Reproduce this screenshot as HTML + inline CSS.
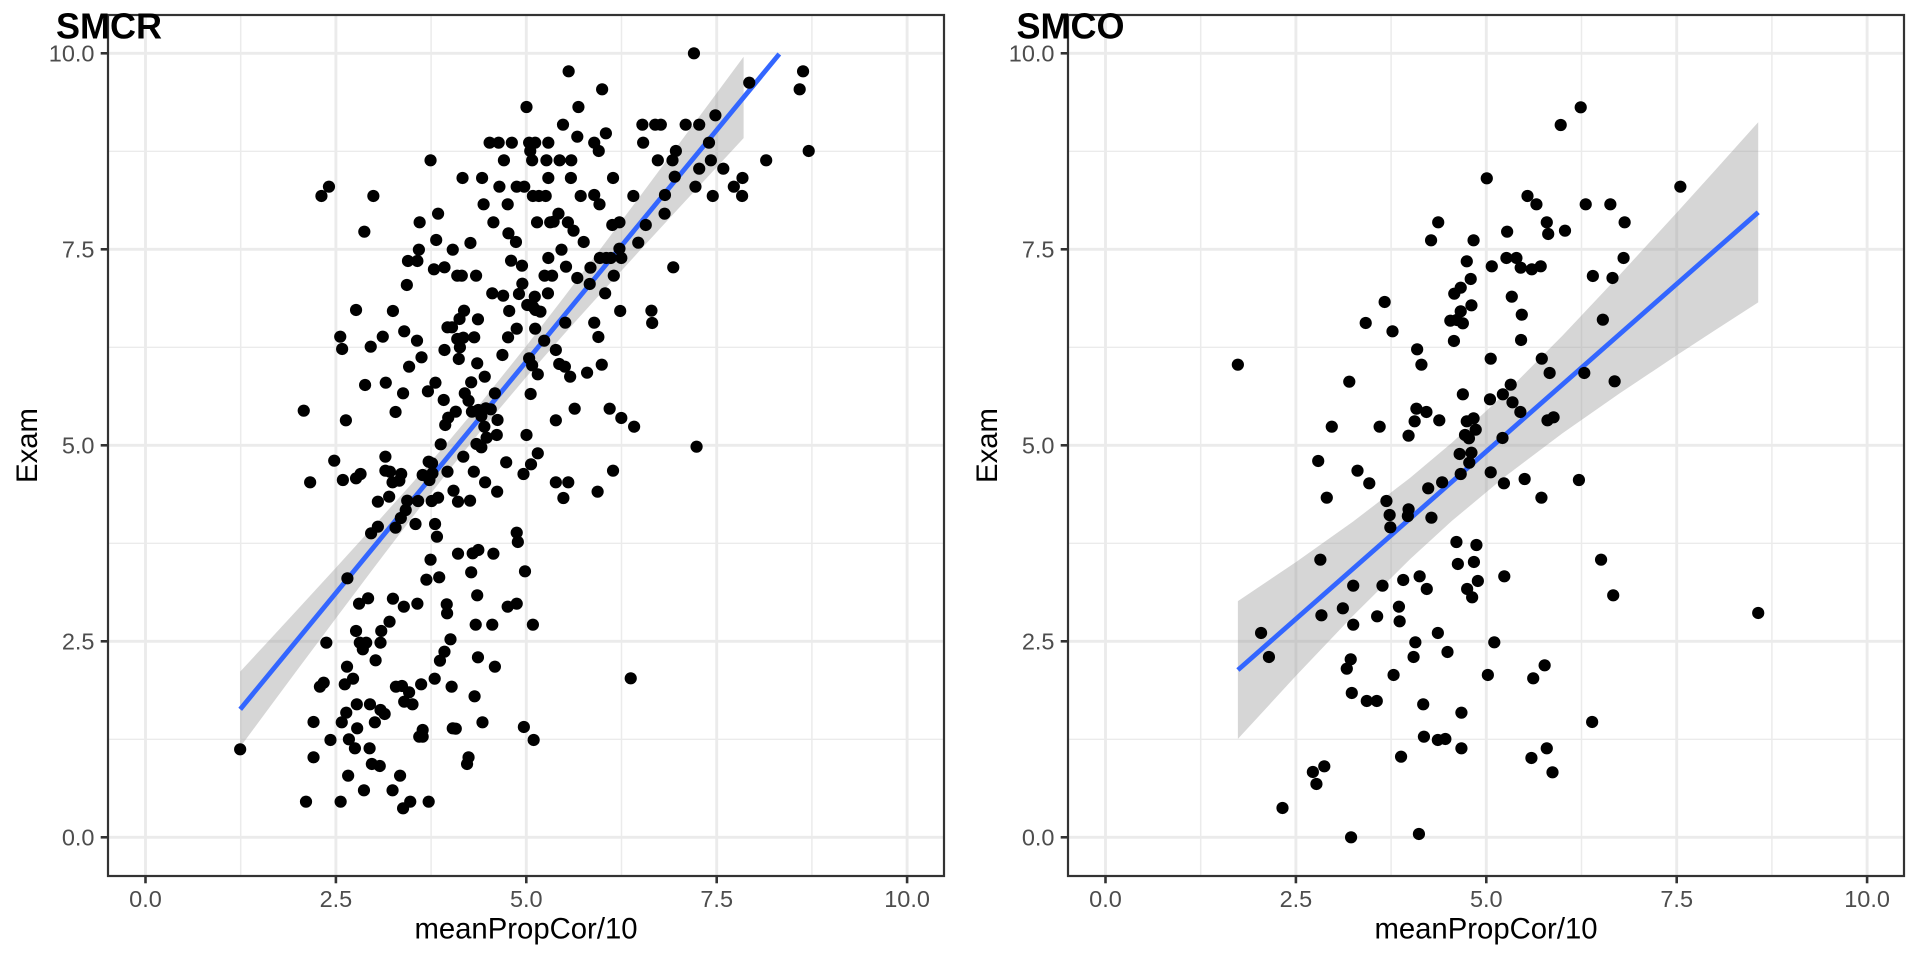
<!DOCTYPE html>
<html><head><meta charset="utf-8"><style>
html,body{margin:0;padding:0;background:#fff;}
svg{display:block;font-family:"Liberation Sans",Arial,sans-serif;}
.tl{font-size:23.5px;fill:#4D4D4D;}
.at{font-size:29.3px;fill:#000;}
.tt{font-size:36px;font-weight:bold;fill:#000;}
.mn{stroke:#EBEBEB;stroke-width:1.45;}
.mj{stroke:#EBEBEB;stroke-width:2.85;}
.tk{stroke:#333;stroke-width:2.6;}
</style></head><body>
<svg width="1920" height="960" viewBox="0 0 1920 960" xmlns="http://www.w3.org/2000/svg">
<rect width="1920" height="960" fill="#fff"/>
<defs>
<g id="frame">
<rect x="108" y="15" width="836" height="861" fill="#fff"/>
<g class="mn">
<line x1="240.7" y1="15" x2="240.7" y2="876"/><line x1="431.1" y1="15" x2="431.1" y2="876"/><line x1="621.5" y1="15" x2="621.5" y2="876"/><line x1="811.9" y1="15" x2="811.9" y2="876"/>
<line x1="108" y1="739.3" x2="944" y2="739.3"/><line x1="108" y1="543.3" x2="944" y2="543.3"/><line x1="108" y1="347.3" x2="944" y2="347.3"/><line x1="108" y1="151.3" x2="944" y2="151.3"/>
</g>
<g class="mj">
<line x1="145.5" y1="15" x2="145.5" y2="876"/><line x1="335.9" y1="15" x2="335.9" y2="876"/><line x1="526.3" y1="15" x2="526.3" y2="876"/><line x1="716.7" y1="15" x2="716.7" y2="876"/><line x1="907.1" y1="15" x2="907.1" y2="876"/>
<line x1="108" y1="837.3" x2="944" y2="837.3"/><line x1="108" y1="641.3" x2="944" y2="641.3"/><line x1="108" y1="445.3" x2="944" y2="445.3"/><line x1="108" y1="249.3" x2="944" y2="249.3"/><line x1="108" y1="53.3" x2="944" y2="53.3"/>
</g>
<g class="tk">
<line x1="100.7" y1="837.3" x2="108" y2="837.3"/><line x1="100.7" y1="641.3" x2="108" y2="641.3"/><line x1="100.7" y1="445.3" x2="108" y2="445.3"/><line x1="100.7" y1="249.3" x2="108" y2="249.3"/><line x1="100.7" y1="53.3" x2="108" y2="53.3"/>
<line x1="145.5" y1="876" x2="145.5" y2="883.3"/><line x1="335.9" y1="876" x2="335.9" y2="883.3"/><line x1="526.3" y1="876" x2="526.3" y2="883.3"/><line x1="716.7" y1="876" x2="716.7" y2="883.3"/><line x1="907.1" y1="876" x2="907.1" y2="883.3"/>
</g>
<g class="tl" text-anchor="end">
<text x="94.5" y="845.7">0.0</text><text x="94.5" y="649.7">2.5</text><text x="94.5" y="453.7">5.0</text><text x="94.5" y="257.7">7.5</text><text x="94.5" y="61.7">10.0</text>
</g>
<g class="tl" text-anchor="middle">
<text x="145.5" y="907">0.0</text><text x="335.9" y="907">2.5</text><text x="526.3" y="907">5.0</text><text x="716.7" y="907">7.5</text><text x="907.1" y="907">10.0</text>
</g>
<text class="at" text-anchor="middle" x="526" y="938.5">meanPropCor/10</text>
<text class="at" text-anchor="middle" transform="translate(37,445.5) rotate(-90)">Exam</text>
</g>
</defs>

<use href="#frame"/>
<use href="#frame" x="960"/>

<!-- Panel 1 smooth -->
<polygon fill="#999999" fill-opacity="0.4" points="240.2,671.6 267.4,642.2 297.8,609.3 335.9,567.7 374,525.8 412.1,483.2 450.1,439.5 480.6,403.1 526.3,346.0 564.4,296.6 602.5,246.3 640.5,195.6 678.6,144.4 709.1,103.4 743.6,56.7 743.6,138.1 709.1,175.4 678.6,208.4 640.5,249.8 602.5,291.5 564.4,333.8 526.3,377.0 480.6,431.1 450.1,468.9 412.1,517.6 374,567.6 335.9,618.3 297.8,669.3 267.4,710.2 240.2,747.0"/>
<line x1="240.2" y1="709.3" x2="779.3" y2="54" stroke="#3366FF" stroke-width="4.8"/>

<!-- Panel 2 smooth -->
<polygon fill="#999999" fill-opacity="0.4" points="1237.9,601.1 1295.9,562.1 1353.0,521.6 1410.1,477.9 1452.0,442.6 1505.3,393.2 1562.5,335.6 1619.6,275.0 1676.7,212.7 1714.8,170.6 1758.2,122.2 1758.2,302.4 1714.8,330.4 1676.7,355.3 1619.6,393.4 1562.5,433.2 1505.3,476.4 1452.0,520.8 1410.1,559.1 1353.0,615.8 1295.9,675.9 1237.9,738.9"/>
<line x1="1237.9" y1="670" x2="1758.2" y2="212.3" stroke="#3366FF" stroke-width="4.8"/>

<!-- Panel 1 points (upper) -->
<g transform="translate(230,40) scale(0.37627,0.33333)" fill="#000">
<ellipse cx="1233" cy="40" rx="16.2" ry="18.3"/><ellipse cx="900" cy="94" rx="16.2" ry="18.3"/><ellipse cx="1523" cy="94" rx="16.2" ry="18.3"/><ellipse cx="1380" cy="128" rx="16.2" ry="18.3"/><ellipse cx="1514" cy="148" rx="16.2" ry="18.3"/><ellipse cx="989" cy="148" rx="16.2" ry="18.3"/><ellipse cx="788" cy="201" rx="16.2" ry="18.3"/><ellipse cx="926" cy="201" rx="16.2" ry="18.3"/><ellipse cx="1290" cy="226" rx="16.2" ry="18.3"/><ellipse cx="885" cy="254" rx="16.2" ry="18.3"/>
<ellipse cx="1096" cy="254" rx="16.2" ry="18.3"/><ellipse cx="1130" cy="254" rx="16.2" ry="18.3"/><ellipse cx="1145" cy="254" rx="16.2" ry="18.3"/><ellipse cx="1211" cy="254" rx="16.2" ry="18.3"/><ellipse cx="1247" cy="254" rx="16.2" ry="18.3"/><ellipse cx="999" cy="280" rx="16.2" ry="18.3"/><ellipse cx="923" cy="290" rx="16.2" ry="18.3"/><ellipse cx="690" cy="308" rx="16.2" ry="18.3"/><ellipse cx="714" cy="308" rx="16.2" ry="18.3"/><ellipse cx="749" cy="308" rx="16.2" ry="18.3"/>
<ellipse cx="795" cy="308" rx="16.2" ry="18.3"/><ellipse cx="811" cy="308" rx="16.2" ry="18.3"/><ellipse cx="846" cy="308" rx="16.2" ry="18.3"/><ellipse cx="968" cy="308" rx="16.2" ry="18.3"/><ellipse cx="1098" cy="308" rx="16.2" ry="18.3"/><ellipse cx="1273" cy="308" rx="16.2" ry="18.3"/><ellipse cx="980" cy="333" rx="16.2" ry="18.3"/><ellipse cx="798" cy="333" rx="16.2" ry="18.3"/><ellipse cx="1185" cy="333" rx="16.2" ry="18.3"/><ellipse cx="1538" cy="333" rx="16.2" ry="18.3"/>
<ellipse cx="533" cy="361" rx="16.2" ry="18.3"/><ellipse cx="728" cy="361" rx="16.2" ry="18.3"/><ellipse cx="803" cy="361" rx="16.2" ry="18.3"/><ellipse cx="841" cy="361" rx="16.2" ry="18.3"/><ellipse cx="876" cy="361" rx="16.2" ry="18.3"/><ellipse cx="907" cy="361" rx="16.2" ry="18.3"/><ellipse cx="1137" cy="361" rx="16.2" ry="18.3"/><ellipse cx="1176" cy="361" rx="16.2" ry="18.3"/><ellipse cx="1278" cy="361" rx="16.2" ry="18.3"/><ellipse cx="1425" cy="361" rx="16.2" ry="18.3"/>
<ellipse cx="1247" cy="386" rx="16.2" ry="18.3"/><ellipse cx="1311" cy="386" rx="16.2" ry="18.3"/><ellipse cx="618" cy="414" rx="16.2" ry="18.3"/><ellipse cx="670" cy="414" rx="16.2" ry="18.3"/><ellipse cx="846" cy="414" rx="16.2" ry="18.3"/><ellipse cx="906" cy="414" rx="16.2" ry="18.3"/><ellipse cx="1018" cy="414" rx="16.2" ry="18.3"/><ellipse cx="1182" cy="410" rx="16.2" ry="18.3"/><ellipse cx="1362" cy="414" rx="16.2" ry="18.3"/><ellipse cx="263" cy="440" rx="16.2" ry="18.3"/>
<ellipse cx="716" cy="440" rx="16.2" ry="18.3"/><ellipse cx="762" cy="440" rx="16.2" ry="18.3"/><ellipse cx="782" cy="440" rx="16.2" ry="18.3"/><ellipse cx="1237" cy="440" rx="16.2" ry="18.3"/><ellipse cx="1339" cy="440" rx="16.2" ry="18.3"/><ellipse cx="243" cy="468" rx="16.2" ry="18.3"/><ellipse cx="381" cy="468" rx="16.2" ry="18.3"/><ellipse cx="805" cy="468" rx="16.2" ry="18.3"/><ellipse cx="821" cy="468" rx="16.2" ry="18.3"/><ellipse cx="839" cy="468" rx="16.2" ry="18.3"/>
<ellipse cx="932" cy="468" rx="16.2" ry="18.3"/><ellipse cx="968" cy="465" rx="16.2" ry="18.3"/><ellipse cx="1072" cy="468" rx="16.2" ry="18.3"/><ellipse cx="1156" cy="465" rx="16.2" ry="18.3"/><ellipse cx="1283" cy="468" rx="16.2" ry="18.3"/><ellipse cx="1361" cy="468" rx="16.2" ry="18.3"/><ellipse cx="674" cy="493" rx="16.2" ry="18.3"/><ellipse cx="738" cy="493" rx="16.2" ry="18.3"/><ellipse cx="982" cy="493" rx="16.2" ry="18.3"/><ellipse cx="553" cy="521" rx="16.2" ry="18.3"/>
<ellipse cx="873" cy="521" rx="16.2" ry="18.3"/><ellipse cx="1155" cy="521" rx="16.2" ry="18.3"/><ellipse cx="504" cy="547" rx="16.2" ry="18.3"/><ellipse cx="700" cy="547" rx="16.2" ry="18.3"/><ellipse cx="816" cy="547" rx="16.2" ry="18.3"/><ellipse cx="851" cy="547" rx="16.2" ry="18.3"/><ellipse cx="860" cy="545" rx="16.2" ry="18.3"/><ellipse cx="898" cy="547" rx="16.2" ry="18.3"/><ellipse cx="1016" cy="555" rx="16.2" ry="18.3"/><ellipse cx="1035" cy="547" rx="16.2" ry="18.3"/>
<ellipse cx="1105" cy="555" rx="16.2" ry="18.3"/><ellipse cx="357" cy="575" rx="16.2" ry="18.3"/><ellipse cx="913" cy="572" rx="16.2" ry="18.3"/><ellipse cx="740" cy="580" rx="16.2" ry="18.3"/><ellipse cx="548" cy="600" rx="16.2" ry="18.3"/><ellipse cx="760" cy="606" rx="16.2" ry="18.3"/><ellipse cx="940" cy="606" rx="16.2" ry="18.3"/><ellipse cx="1085" cy="608" rx="16.2" ry="18.3"/><ellipse cx="639" cy="609" rx="16.2" ry="18.3"/><ellipse cx="502" cy="629" rx="16.2" ry="18.3"/>
<ellipse cx="592" cy="629" rx="16.2" ry="18.3"/><ellipse cx="881" cy="629" rx="16.2" ry="18.3"/><ellipse cx="1035" cy="626" rx="16.2" ry="18.3"/><ellipse cx="473" cy="663" rx="16.2" ry="18.3"/><ellipse cx="498" cy="663" rx="16.2" ry="18.3"/><ellipse cx="747" cy="662" rx="16.2" ry="18.3"/><ellipse cx="846" cy="654" rx="16.2" ry="18.3"/><ellipse cx="983" cy="654" rx="16.2" ry="18.3"/><ellipse cx="1000" cy="654" rx="16.2" ry="18.3"/><ellipse cx="1012" cy="654" rx="16.2" ry="18.3"/>
<ellipse cx="1040" cy="654" rx="16.2" ry="18.3"/><ellipse cx="776" cy="677" rx="16.2" ry="18.3"/><ellipse cx="893" cy="680" rx="16.2" ry="18.3"/><ellipse cx="958" cy="683" rx="16.2" ry="18.3"/><ellipse cx="1178" cy="682" rx="16.2" ry="18.3"/><ellipse cx="542" cy="688" rx="16.2" ry="18.3"/><ellipse cx="570" cy="682" rx="16.2" ry="18.3"/><ellipse cx="604" cy="707" rx="16.2" ry="18.3"/><ellipse cx="616" cy="707" rx="16.2" ry="18.3"/><ellipse cx="654" cy="707" rx="16.2" ry="18.3"/>
<ellipse cx="836" cy="707" rx="16.2" ry="18.3"/><ellipse cx="856" cy="707" rx="16.2" ry="18.3"/><ellipse cx="1020" cy="707" rx="16.2" ry="18.3"/><ellipse cx="923" cy="714" rx="16.2" ry="18.3"/><ellipse cx="956" cy="732" rx="16.2" ry="18.3"/><ellipse cx="470" cy="735" rx="16.2" ry="18.3"/><ellipse cx="777" cy="731" rx="16.2" ry="18.3"/><ellipse cx="697" cy="760" rx="16.2" ry="18.3"/><ellipse cx="726" cy="767" rx="16.2" ry="18.3"/><ellipse cx="768" cy="762" rx="16.2" ry="18.3"/>
<ellipse cx="845" cy="760" rx="16.2" ry="18.3"/><ellipse cx="997" cy="760" rx="16.2" ry="18.3"/><ellipse cx="810" cy="770" rx="16.2" ry="18.3"/><ellipse cx="790" cy="795" rx="16.2" ry="18.3"/><ellipse cx="805" cy="800" rx="16.2" ry="18.3"/><ellipse cx="335" cy="810" rx="16.2" ry="18.3"/><ellipse cx="433" cy="813" rx="16.2" ry="18.3"/><ellipse cx="622" cy="812" rx="16.2" ry="18.3"/><ellipse cx="742" cy="813" rx="16.2" ry="18.3"/><ellipse cx="812" cy="810" rx="16.2" ry="18.3"/>
<ellipse cx="825" cy="815" rx="16.2" ry="18.3"/><ellipse cx="1037" cy="813" rx="16.2" ry="18.3"/><ellipse cx="1120" cy="812" rx="16.2" ry="18.3"/><ellipse cx="1122" cy="849" rx="16.2" ry="18.3"/><ellipse cx="610" cy="837" rx="16.2" ry="18.3"/><ellipse cx="659" cy="838" rx="16.2" ry="18.3"/><ellipse cx="891" cy="848" rx="16.2" ry="18.3"/><ellipse cx="968" cy="848" rx="16.2" ry="18.3"/><ellipse cx="578" cy="862" rx="16.2" ry="18.3"/><ellipse cx="590" cy="862" rx="16.2" ry="18.3"/>
<ellipse cx="762" cy="866" rx="16.2" ry="18.3"/><ellipse cx="811" cy="866" rx="16.2" ry="18.3"/><ellipse cx="463" cy="874" rx="16.2" ry="18.3"/><ellipse cx="293" cy="890" rx="16.2" ry="18.3"/><ellipse cx="406" cy="890" rx="16.2" ry="18.3"/><ellipse cx="604" cy="897" rx="16.2" ry="18.3"/><ellipse cx="620" cy="893" rx="16.2" ry="18.3"/><ellipse cx="649" cy="892" rx="16.2" ry="18.3"/><ellipse cx="739" cy="892" rx="16.2" ry="18.3"/><ellipse cx="979" cy="891" rx="16.2" ry="18.3"/>
<ellipse cx="497" cy="902" rx="16.2" ry="18.3"/><ellipse cx="835" cy="902" rx="16.2" ry="18.3"/><ellipse cx="298" cy="927" rx="16.2" ry="18.3"/><ellipse cx="374" cy="920" rx="16.2" ry="18.3"/><ellipse cx="570" cy="930" rx="16.2" ry="18.3"/><ellipse cx="611" cy="922" rx="16.2" ry="18.3"/><ellipse cx="866" cy="930" rx="16.2" ry="18.3"/><ellipse cx="724" cy="945" rx="16.2" ry="18.3"/><ellipse cx="509" cy="952" rx="16.2" ry="18.3"/><ellipse cx="608" cy="957" rx="16.2" ry="18.3"/>
<ellipse cx="795" cy="955" rx="16.2" ry="18.3"/><ellipse cx="657" cy="970" rx="16.2" ry="18.3"/><ellipse cx="476" cy="980" rx="16.2" ry="18.3"/><ellipse cx="803" cy="976" rx="16.2" ry="18.3"/><ellipse cx="875" cy="972" rx="16.2" ry="18.3"/><ellipse cx="890" cy="980" rx="16.2" ry="18.3"/><ellipse cx="988" cy="974" rx="16.2" ry="18.3"/><ellipse cx="818" cy="1003" rx="16.2" ry="18.3"/><ellipse cx="949" cy="998" rx="16.2" ry="18.3"/><ellipse cx="904" cy="1010" rx="16.2" ry="18.3"/>
<ellipse cx="677" cy="1010" rx="16.2" ry="18.3"/><ellipse cx="359" cy="1035" rx="16.2" ry="18.3"/><ellipse cx="414" cy="1028" rx="16.2" ry="18.3"/><ellipse cx="546" cy="1028" rx="16.2" ry="18.3"/><ellipse cx="641" cy="1027" rx="16.2" ry="18.3"/><ellipse cx="460" cy="1060" rx="16.2" ry="18.3"/><ellipse cx="526" cy="1054" rx="16.2" ry="18.3"/><ellipse cx="624" cy="1060" rx="16.2" ry="18.3"/><ellipse cx="704" cy="1060" rx="16.2" ry="18.3"/><ellipse cx="799" cy="1062" rx="16.2" ry="18.3"/>
<ellipse cx="568" cy="1080" rx="16.2" ry="18.3"/><ellipse cx="634" cy="1082" rx="16.2" ry="18.3"/><ellipse cx="196" cy="1112" rx="16.2" ry="18.3"/><ellipse cx="440" cy="1116" rx="16.2" ry="18.3"/><ellipse cx="600" cy="1115" rx="16.2" ry="18.3"/><ellipse cx="643" cy="1115" rx="16.2" ry="18.3"/><ellipse cx="660" cy="1110" rx="16.2" ry="18.3"/><ellipse cx="680" cy="1105" rx="16.2" ry="18.3"/><ellipse cx="693" cy="1108" rx="16.2" ry="18.3"/><ellipse cx="916" cy="1106" rx="16.2" ry="18.3"/>
<ellipse cx="1009" cy="1106" rx="16.2" ry="18.3"/><ellipse cx="308" cy="1141" rx="16.2" ry="18.3"/><ellipse cx="580" cy="1133" rx="16.2" ry="18.3"/><ellipse cx="572" cy="1155" rx="16.2" ry="18.3"/><ellipse cx="668" cy="1128" rx="16.2" ry="18.3"/><ellipse cx="711" cy="1140" rx="16.2" ry="18.3"/><ellipse cx="866" cy="1141" rx="16.2" ry="18.3"/><ellipse cx="1040" cy="1134" rx="16.2" ry="18.3"/><ellipse cx="1074" cy="1160" rx="16.2" ry="18.3"/><ellipse cx="676" cy="1160" rx="16.2" ry="18.3"/>
<ellipse cx="709" cy="1185" rx="16.2" ry="18.3"/><ellipse cx="788" cy="1185" rx="16.2" ry="18.3"/><ellipse cx="682" cy="1193" rx="16.2" ry="18.3"/><ellipse cx="560" cy="1213" rx="16.2" ry="18.3"/><ellipse cx="655" cy="1212" rx="16.2" ry="18.3"/><ellipse cx="668" cy="1222" rx="16.2" ry="18.3"/><ellipse cx="1240" cy="1220" rx="16.2" ry="18.3"/><ellipse cx="818" cy="1240" rx="16.2" ry="18.3"/>
</g>

<!-- Panel 1 points (lower) -->
<g transform="translate(230,450) scale(0.37627,0.33333)" fill="#000">
<ellipse cx="277" cy="32" rx="16.2" ry="18.3"/><ellipse cx="413" cy="20" rx="16.2" ry="18.3"/><ellipse cx="528" cy="35" rx="16.2" ry="18.3"/><ellipse cx="537" cy="40" rx="16.2" ry="18.3"/><ellipse cx="620" cy="20" rx="16.2" ry="18.3"/><ellipse cx="734" cy="37" rx="16.2" ry="18.3"/><ellipse cx="800" cy="43" rx="16.2" ry="18.3"/><ellipse cx="1018" cy="62" rx="16.2" ry="18.3"/><ellipse cx="213" cy="97" rx="16.2" ry="18.3"/><ellipse cx="300" cy="90" rx="16.2" ry="18.3"/>
<ellipse cx="335" cy="85" rx="16.2" ry="18.3"/><ellipse cx="347" cy="72" rx="16.2" ry="18.3"/><ellipse cx="413" cy="62" rx="16.2" ry="18.3"/><ellipse cx="425" cy="65" rx="16.2" ry="18.3"/><ellipse cx="455" cy="72" rx="16.2" ry="18.3"/><ellipse cx="432" cy="97" rx="16.2" ry="18.3"/><ellipse cx="450" cy="92" rx="16.2" ry="18.3"/><ellipse cx="512" cy="75" rx="16.2" ry="18.3"/><ellipse cx="530" cy="90" rx="16.2" ry="18.3"/><ellipse cx="538" cy="70" rx="16.2" ry="18.3"/>
<ellipse cx="578" cy="65" rx="16.2" ry="18.3"/><ellipse cx="648" cy="65" rx="16.2" ry="18.3"/><ellipse cx="678" cy="97" rx="16.2" ry="18.3"/><ellipse cx="780" cy="72" rx="16.2" ry="18.3"/><ellipse cx="866" cy="97" rx="16.2" ry="18.3"/><ellipse cx="899" cy="97" rx="16.2" ry="18.3"/><ellipse cx="710" cy="125" rx="16.2" ry="18.3"/><ellipse cx="977" cy="125" rx="16.2" ry="18.3"/><ellipse cx="886" cy="144" rx="16.2" ry="18.3"/><ellipse cx="594" cy="122" rx="16.2" ry="18.3"/>
<ellipse cx="393" cy="155" rx="16.2" ry="18.3"/><ellipse cx="423" cy="140" rx="16.2" ry="18.3"/><ellipse cx="471" cy="152" rx="16.2" ry="18.3"/><ellipse cx="500" cy="153" rx="16.2" ry="18.3"/><ellipse cx="536" cy="153" rx="16.2" ry="18.3"/><ellipse cx="553" cy="143" rx="16.2" ry="18.3"/><ellipse cx="606" cy="155" rx="16.2" ry="18.3"/><ellipse cx="638" cy="152" rx="16.2" ry="18.3"/><ellipse cx="467" cy="180" rx="16.2" ry="18.3"/><ellipse cx="454" cy="204" rx="16.2" ry="18.3"/>
<ellipse cx="440" cy="233" rx="16.2" ry="18.3"/><ellipse cx="393" cy="230" rx="16.2" ry="18.3"/><ellipse cx="375" cy="250" rx="16.2" ry="18.3"/><ellipse cx="493" cy="222" rx="16.2" ry="18.3"/><ellipse cx="545" cy="222" rx="16.2" ry="18.3"/><ellipse cx="550" cy="260" rx="16.2" ry="18.3"/><ellipse cx="762" cy="248" rx="16.2" ry="18.3"/><ellipse cx="765" cy="276" rx="16.2" ry="18.3"/><ellipse cx="606" cy="311" rx="16.2" ry="18.3"/><ellipse cx="645" cy="310" rx="16.2" ry="18.3"/>
<ellipse cx="660" cy="300" rx="16.2" ry="18.3"/><ellipse cx="700" cy="311" rx="16.2" ry="18.3"/><ellipse cx="533" cy="329" rx="16.2" ry="18.3"/><ellipse cx="641" cy="367" rx="16.2" ry="18.3"/><ellipse cx="784" cy="364" rx="16.2" ry="18.3"/><ellipse cx="312" cy="385" rx="16.2" ry="18.3"/><ellipse cx="522" cy="389" rx="16.2" ry="18.3"/><ellipse cx="556" cy="382" rx="16.2" ry="18.3"/><ellipse cx="343" cy="461" rx="16.2" ry="18.3"/><ellipse cx="367" cy="445" rx="16.2" ry="18.3"/>
<ellipse cx="433" cy="446" rx="16.2" ry="18.3"/><ellipse cx="462" cy="470" rx="16.2" ry="18.3"/><ellipse cx="498" cy="461" rx="16.2" ry="18.3"/><ellipse cx="576" cy="463" rx="16.2" ry="18.3"/><ellipse cx="577" cy="490" rx="16.2" ry="18.3"/><ellipse cx="657" cy="436" rx="16.2" ry="18.3"/><ellipse cx="738" cy="470" rx="16.2" ry="18.3"/><ellipse cx="762" cy="461" rx="16.2" ry="18.3"/><ellipse cx="424" cy="515" rx="16.2" ry="18.3"/><ellipse cx="653" cy="524" rx="16.2" ry="18.3"/>
<ellipse cx="697" cy="524" rx="16.2" ry="18.3"/><ellipse cx="805" cy="524" rx="16.2" ry="18.3"/><ellipse cx="335" cy="543" rx="16.2" ry="18.3"/><ellipse cx="402" cy="543" rx="16.2" ry="18.3"/><ellipse cx="256" cy="578" rx="16.2" ry="18.3"/><ellipse cx="345" cy="578" rx="16.2" ry="18.3"/><ellipse cx="362" cy="578" rx="16.2" ry="18.3"/><ellipse cx="400" cy="578" rx="16.2" ry="18.3"/><ellipse cx="353" cy="598" rx="16.2" ry="18.3"/><ellipse cx="586" cy="568" rx="16.2" ry="18.3"/>
<ellipse cx="570" cy="605" rx="16.2" ry="18.3"/><ellipse cx="558" cy="632" rx="16.2" ry="18.3"/><ellipse cx="387" cy="631" rx="16.2" ry="18.3"/><ellipse cx="659" cy="622" rx="16.2" ry="18.3"/><ellipse cx="704" cy="650" rx="16.2" ry="18.3"/><ellipse cx="311" cy="650" rx="16.2" ry="18.3"/><ellipse cx="327" cy="686" rx="16.2" ry="18.3"/><ellipse cx="249" cy="698" rx="16.2" ry="18.3"/><ellipse cx="239" cy="710" rx="16.2" ry="18.3"/><ellipse cx="305" cy="703" rx="16.2" ry="18.3"/>
<ellipse cx="544" cy="686" rx="16.2" ry="18.3"/><ellipse cx="1065" cy="685" rx="16.2" ry="18.3"/><ellipse cx="441" cy="710" rx="16.2" ry="18.3"/><ellipse cx="457" cy="708" rx="16.2" ry="18.3"/><ellipse cx="476" cy="727" rx="16.2" ry="18.3"/><ellipse cx="508" cy="703" rx="16.2" ry="18.3"/><ellipse cx="589" cy="710" rx="16.2" ry="18.3"/><ellipse cx="650" cy="739" rx="16.2" ry="18.3"/><ellipse cx="463" cy="755" rx="16.2" ry="18.3"/><ellipse cx="485" cy="763" rx="16.2" ry="18.3"/>
<ellipse cx="337" cy="763" rx="16.2" ry="18.3"/><ellipse cx="372" cy="763" rx="16.2" ry="18.3"/><ellipse cx="400" cy="780" rx="16.2" ry="18.3"/><ellipse cx="411" cy="792" rx="16.2" ry="18.3"/><ellipse cx="309" cy="788" rx="16.2" ry="18.3"/><ellipse cx="222" cy="816" rx="16.2" ry="18.3"/><ellipse cx="297" cy="817" rx="16.2" ry="18.3"/><ellipse cx="385" cy="817" rx="16.2" ry="18.3"/><ellipse cx="338" cy="835" rx="16.2" ry="18.3"/><ellipse cx="512" cy="840" rx="16.2" ry="18.3"/>
<ellipse cx="503" cy="860" rx="16.2" ry="18.3"/><ellipse cx="512" cy="860" rx="16.2" ry="18.3"/><ellipse cx="592" cy="835" rx="16.2" ry="18.3"/><ellipse cx="600" cy="836" rx="16.2" ry="18.3"/><ellipse cx="671" cy="817" rx="16.2" ry="18.3"/><ellipse cx="781" cy="831" rx="16.2" ry="18.3"/><ellipse cx="807" cy="870" rx="16.2" ry="18.3"/><ellipse cx="267" cy="870" rx="16.2" ry="18.3"/><ellipse cx="316" cy="868" rx="16.2" ry="18.3"/><ellipse cx="332" cy="895" rx="16.2" ry="18.3"/>
<ellipse cx="371" cy="895" rx="16.2" ry="18.3"/><ellipse cx="27" cy="898" rx="16.2" ry="18.3"/><ellipse cx="222" cy="922" rx="16.2" ry="18.3"/><ellipse cx="634" cy="922" rx="16.2" ry="18.3"/><ellipse cx="630" cy="942" rx="16.2" ry="18.3"/><ellipse cx="377" cy="942" rx="16.2" ry="18.3"/><ellipse cx="398" cy="948" rx="16.2" ry="18.3"/><ellipse cx="314" cy="977" rx="16.2" ry="18.3"/><ellipse cx="452" cy="977" rx="16.2" ry="18.3"/><ellipse cx="356" cy="1021" rx="16.2" ry="18.3"/>
<ellipse cx="432" cy="1021" rx="16.2" ry="18.3"/><ellipse cx="202" cy="1055" rx="16.2" ry="18.3"/><ellipse cx="294" cy="1055" rx="16.2" ry="18.3"/><ellipse cx="479" cy="1055" rx="16.2" ry="18.3"/><ellipse cx="460" cy="1075" rx="16.2" ry="18.3"/><ellipse cx="528" cy="1055" rx="16.2" ry="18.3"/>
</g>

<!-- Panel 2 points (upper) -->
<g transform="translate(1225,95) scale(0.35714,0.33333)" fill="#000">
<ellipse cx="996" cy="37" rx="17.1" ry="18.3"/><ellipse cx="940" cy="90" rx="17.1" ry="18.3"/><ellipse cx="733" cy="250" rx="17.1" ry="18.3"/><ellipse cx="1275" cy="275" rx="17.1" ry="18.3"/><ellipse cx="847" cy="303" rx="17.1" ry="18.3"/><ellipse cx="872" cy="328" rx="17.1" ry="18.3"/><ellipse cx="1010" cy="328" rx="17.1" ry="18.3"/><ellipse cx="1079" cy="328" rx="17.1" ry="18.3"/><ellipse cx="597" cy="382" rx="17.1" ry="18.3"/><ellipse cx="901" cy="382" rx="17.1" ry="18.3"/>
<ellipse cx="1119" cy="382" rx="17.1" ry="18.3"/><ellipse cx="790" cy="410" rx="17.1" ry="18.3"/><ellipse cx="905" cy="417" rx="17.1" ry="18.3"/><ellipse cx="952" cy="407" rx="17.1" ry="18.3"/><ellipse cx="577" cy="436" rx="17.1" ry="18.3"/><ellipse cx="696" cy="436" rx="17.1" ry="18.3"/><ellipse cx="677" cy="499" rx="17.1" ry="18.3"/><ellipse cx="747" cy="514" rx="17.1" ry="18.3"/><ellipse cx="788" cy="489" rx="17.1" ry="18.3"/><ellipse cx="816" cy="489" rx="17.1" ry="18.3"/>
<ellipse cx="828" cy="518" rx="17.1" ry="18.3"/><ellipse cx="859" cy="523" rx="17.1" ry="18.3"/><ellipse cx="884" cy="514" rx="17.1" ry="18.3"/><ellipse cx="1116" cy="489" rx="17.1" ry="18.3"/><ellipse cx="1030" cy="543" rx="17.1" ry="18.3"/><ellipse cx="1085" cy="549" rx="17.1" ry="18.3"/><ellipse cx="688" cy="552" rx="17.1" ry="18.3"/><ellipse cx="660" cy="578" rx="17.1" ry="18.3"/><ellipse cx="642" cy="596" rx="17.1" ry="18.3"/><ellipse cx="803" cy="605" rx="17.1" ry="18.3"/>
<ellipse cx="447" cy="621" rx="17.1" ry="18.3"/><ellipse cx="690" cy="631" rx="17.1" ry="18.3"/><ellipse cx="660" cy="649" rx="17.1" ry="18.3"/><ellipse cx="631" cy="677" rx="17.1" ry="18.3"/><ellipse cx="649" cy="675" rx="17.1" ry="18.3"/><ellipse cx="666" cy="685" rx="17.1" ry="18.3"/><ellipse cx="831" cy="659" rx="17.1" ry="18.3"/><ellipse cx="394" cy="684" rx="17.1" ry="18.3"/><ellipse cx="1058" cy="674" rx="17.1" ry="18.3"/><ellipse cx="469" cy="709" rx="17.1" ry="18.3"/>
<ellipse cx="641" cy="738" rx="17.1" ry="18.3"/><ellipse cx="829" cy="735" rx="17.1" ry="18.3"/><ellipse cx="538" cy="763" rx="17.1" ry="18.3"/><ellipse cx="36" cy="809" rx="17.1" ry="18.3"/><ellipse cx="550" cy="809" rx="17.1" ry="18.3"/><ellipse cx="744" cy="791" rx="17.1" ry="18.3"/><ellipse cx="887" cy="791" rx="17.1" ry="18.3"/><ellipse cx="909" cy="834" rx="17.1" ry="18.3"/><ellipse cx="1006" cy="834" rx="17.1" ry="18.3"/><ellipse cx="1091" cy="859" rx="17.1" ry="18.3"/>
<ellipse cx="348" cy="860" rx="17.1" ry="18.3"/><ellipse cx="666" cy="898" rx="17.1" ry="18.3"/><ellipse cx="800" cy="869" rx="17.1" ry="18.3"/><ellipse cx="778" cy="898" rx="17.1" ry="18.3"/><ellipse cx="742" cy="913" rx="17.1" ry="18.3"/><ellipse cx="805" cy="922" rx="17.1" ry="18.3"/><ellipse cx="827" cy="951" rx="17.1" ry="18.3"/><ellipse cx="536" cy="941" rx="17.1" ry="18.3"/><ellipse cx="564" cy="951" rx="17.1" ry="18.3"/><ellipse cx="531" cy="979" rx="17.1" ry="18.3"/>
<ellipse cx="600" cy="976" rx="17.1" ry="18.3"/><ellipse cx="677" cy="979" rx="17.1" ry="18.3"/><ellipse cx="696" cy="970" rx="17.1" ry="18.3"/><ellipse cx="702" cy="1004" rx="17.1" ry="18.3"/><ellipse cx="903" cy="976" rx="17.1" ry="18.3"/><ellipse cx="920" cy="967" rx="17.1" ry="18.3"/><ellipse cx="299" cy="995" rx="17.1" ry="18.3"/><ellipse cx="433" cy="995" rx="17.1" ry="18.3"/><ellipse cx="514" cy="1022" rx="17.1" ry="18.3"/><ellipse cx="672" cy="1020" rx="17.1" ry="18.3"/>
<ellipse cx="683" cy="1030" rx="17.1" ry="18.3"/><ellipse cx="777" cy="1029" rx="17.1" ry="18.3"/><ellipse cx="657" cy="1077" rx="17.1" ry="18.3"/><ellipse cx="690" cy="1073" rx="17.1" ry="18.3"/><ellipse cx="684" cy="1103" rx="17.1" ry="18.3"/><ellipse cx="261" cy="1098" rx="17.1" ry="18.3"/>
</g>

<!-- Panel 2 points (lower) -->
<g transform="translate(1225,465) scale(0.35714,0.33333)" fill="#000">
<ellipse cx="371" cy="17" rx="17.1" ry="18.3"/><ellipse cx="404" cy="55" rx="17.1" ry="18.3"/><ellipse cx="285" cy="98" rx="17.1" ry="18.3"/><ellipse cx="452" cy="108" rx="17.1" ry="18.3"/><ellipse cx="569" cy="70" rx="17.1" ry="18.3"/><ellipse cx="608" cy="52" rx="17.1" ry="18.3"/><ellipse cx="660" cy="27" rx="17.1" ry="18.3"/><ellipse cx="744" cy="22" rx="17.1" ry="18.3"/><ellipse cx="781" cy="55" rx="17.1" ry="18.3"/><ellipse cx="839" cy="42" rx="17.1" ry="18.3"/>
<ellipse cx="991" cy="45" rx="17.1" ry="18.3"/><ellipse cx="886" cy="98" rx="17.1" ry="18.3"/><ellipse cx="461" cy="150" rx="17.1" ry="18.3"/><ellipse cx="514" cy="133" rx="17.1" ry="18.3"/><ellipse cx="512" cy="153" rx="17.1" ry="18.3"/><ellipse cx="578" cy="158" rx="17.1" ry="18.3"/><ellipse cx="463" cy="187" rx="17.1" ry="18.3"/><ellipse cx="648" cy="231" rx="17.1" ry="18.3"/><ellipse cx="704" cy="240" rx="17.1" ry="18.3"/><ellipse cx="652" cy="297" rx="17.1" ry="18.3"/>
<ellipse cx="697" cy="291" rx="17.1" ry="18.3"/><ellipse cx="1053" cy="284" rx="17.1" ry="18.3"/><ellipse cx="267" cy="284" rx="17.1" ry="18.3"/><ellipse cx="782" cy="334" rx="17.1" ry="18.3"/><ellipse cx="708" cy="348" rx="17.1" ry="18.3"/><ellipse cx="499" cy="345" rx="17.1" ry="18.3"/><ellipse cx="545" cy="334" rx="17.1" ry="18.3"/><ellipse cx="565" cy="372" rx="17.1" ry="18.3"/><ellipse cx="678" cy="372" rx="17.1" ry="18.3"/><ellipse cx="692" cy="397" rx="17.1" ry="18.3"/>
<ellipse cx="359" cy="362" rx="17.1" ry="18.3"/><ellipse cx="441" cy="362" rx="17.1" ry="18.3"/><ellipse cx="1087" cy="391" rx="17.1" ry="18.3"/><ellipse cx="330" cy="430" rx="17.1" ry="18.3"/><ellipse cx="487" cy="425" rx="17.1" ry="18.3"/><ellipse cx="270" cy="451" rx="17.1" ry="18.3"/><ellipse cx="426" cy="454" rx="17.1" ry="18.3"/><ellipse cx="489" cy="469" rx="17.1" ry="18.3"/><ellipse cx="359" cy="479" rx="17.1" ry="18.3"/><ellipse cx="1493" cy="444" rx="17.1" ry="18.3"/>
<ellipse cx="101" cy="504" rx="17.1" ry="18.3"/><ellipse cx="596" cy="504" rx="17.1" ry="18.3"/><ellipse cx="533" cy="532" rx="17.1" ry="18.3"/><ellipse cx="754" cy="532" rx="17.1" ry="18.3"/><ellipse cx="123" cy="576" rx="17.1" ry="18.3"/><ellipse cx="528" cy="576" rx="17.1" ry="18.3"/><ellipse cx="623" cy="561" rx="17.1" ry="18.3"/><ellipse cx="352" cy="583" rx="17.1" ry="18.3"/><ellipse cx="341" cy="611" rx="17.1" ry="18.3"/><ellipse cx="895" cy="601" rx="17.1" ry="18.3"/>
<ellipse cx="472" cy="630" rx="17.1" ry="18.3"/><ellipse cx="736" cy="630" rx="17.1" ry="18.3"/><ellipse cx="863" cy="640" rx="17.1" ry="18.3"/><ellipse cx="355" cy="684" rx="17.1" ry="18.3"/><ellipse cx="397" cy="708" rx="17.1" ry="18.3"/><ellipse cx="425" cy="708" rx="17.1" ry="18.3"/><ellipse cx="555" cy="718" rx="17.1" ry="18.3"/><ellipse cx="662" cy="743" rx="17.1" ry="18.3"/><ellipse cx="1028" cy="771" rx="17.1" ry="18.3"/><ellipse cx="557" cy="815" rx="17.1" ry="18.3"/>
<ellipse cx="596" cy="825" rx="17.1" ry="18.3"/><ellipse cx="617" cy="822" rx="17.1" ry="18.3"/><ellipse cx="662" cy="850" rx="17.1" ry="18.3"/><ellipse cx="901" cy="850" rx="17.1" ry="18.3"/><ellipse cx="858" cy="879" rx="17.1" ry="18.3"/><ellipse cx="493" cy="875" rx="17.1" ry="18.3"/><ellipse cx="278" cy="904" rx="17.1" ry="18.3"/><ellipse cx="246" cy="921" rx="17.1" ry="18.3"/><ellipse cx="256" cy="957" rx="17.1" ry="18.3"/><ellipse cx="917" cy="922" rx="17.1" ry="18.3"/>
<ellipse cx="161" cy="1029" rx="17.1" ry="18.3"/><ellipse cx="353" cy="1117" rx="17.1" ry="18.3"/><ellipse cx="543" cy="1107" rx="17.1" ry="18.3"/>
</g>

<!-- Panel borders -->
<rect x="108" y="15" width="836" height="861" fill="none" stroke="#333" stroke-width="2.2"/>
<rect x="1068" y="15" width="836" height="861" fill="none" stroke="#333" stroke-width="2.2"/>

<!-- Titles -->
<text class="tt" x="56" y="38.7">SMCR</text>
<text class="tt" x="1016.5" y="38.7">SMCO</text>
</svg>
</body></html>
